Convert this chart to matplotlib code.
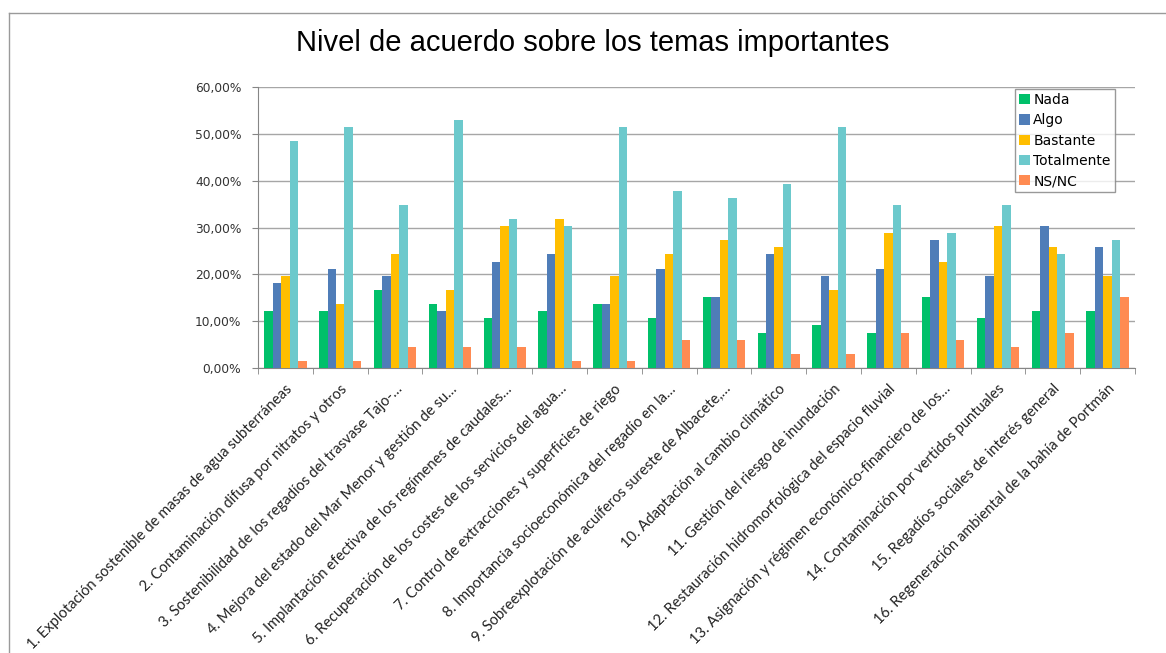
import matplotlib
matplotlib.use('Agg')
import matplotlib.pyplot as plt
from matplotlib.lines import Line2D
import numpy as np

temas = [
    "1. Explotación sostenible de masas de agua subterráneas",
    "2. Contaminación difusa por nitratos y otros",
    "3. Sostenibilidad de los regadíos del trasvase Tajo-…",
    "4. Mejora del estado del Mar Menor y gestión de su…",
    "5. Implantación efectiva de los regímenes de caudales…",
    "6. Recuperación de los costes de los servicios del agua…",
    "7. Control de extracciones y superficies de riego",
    "8. Importancia socioeconómica del regadío en la…",
    "9. Sobreexplotación de acuíferos sureste de Albacete,…",
    "10. Adaptación al cambio climático",
    "11. Gestión del riesgo de inundación",
    "12. Restauración hidromorfológica del espacio fluvial",
    "13. Asignación y régimen económico-financiero de los…",
    "14. Contaminación por vertidos puntuales",
    "15. Regadíos sociales de interés general",
    "16. Regeneración ambiental de la bahía de Portmán",
]

nada = [12.12, 12.12, 16.67, 13.64, 10.61, 12.12, 13.64, 10.61,
        15.15, 7.58, 9.09, 7.58, 15.15, 10.61, 12.12, 12.12]
algo = [18.18, 21.21, 19.70, 12.12, 22.73, 24.24, 13.64, 21.21,
        15.15, 24.24, 19.70, 21.21, 27.27, 19.70, 30.30, 25.76]
bastante = [19.70, 13.64, 24.24, 16.67, 30.30, 31.82, 19.70, 24.24,
            27.27, 25.76, 16.67, 28.79, 22.73, 30.30, 25.76, 19.70]
totalmente = [48.48, 51.52, 34.85, 53.03, 31.82, 30.30, 51.52, 37.88,
              36.36, 39.39, 51.52, 34.85, 28.79, 34.85, 24.24, 27.27]
nsnc = [1.52, 1.52, 4.55, 4.55, 4.55, 1.52, 1.52, 6.06,
        6.06, 3.03, 3.03, 7.58, 6.06, 4.55, 7.58, 15.15]

series = [('Nada', nada, '#00C06A'),
          ('Algo', algo, '#4F7DB8'),
          ('Bastante', bastante, '#FFBE00'),
          ('Totalmente', totalmente, '#6CC9CC'),
          ('NS/NC', nsnc, '#FF8B52')]

fig = plt.figure(figsize=(11.66, 6.53), dpi=100)
ax = fig.add_axes([258 / 1166, 1 - 368 / 653, (1135 - 258) / 1166, (368 - 87) / 653])

x = np.arange(len(temas))
w = 0.154
for i, (name, vals, col) in enumerate(series):
    ax.bar(x + (i - 2) * w, vals, width=w, color=col, label=name, zorder=3)

ax.set_xlim(-0.5, len(temas) - 0.5)
ax.set_ylim(0, 60)
ax.set_yticks(np.arange(0, 61, 10))
ax.set_yticklabels([f'{v:.2f}%'.replace('.', ',') for v in range(0, 61, 10)],
                   fontsize=8.8, color='#333333')
ax.yaxis.grid(True, color='#A6A6A6', linewidth=1, zorder=0)

ax.set_xticks(x)
ax.set_xticklabels(temas, rotation=45, ha='right', rotation_mode='anchor',
                   fontsize=10.6, family=['Lato', 'DejaVu Sans'], color='#222222')
ax.tick_params(axis='x', which='major', length=0, pad=10)
ax.set_xticks(np.arange(-0.5, len(temas)), minor=True)
ax.tick_params(axis='x', which='minor', length=4, color='#868686')
ax.tick_params(axis='y', length=4, color='#868686', pad=8)

for s in ['top', 'right']:
    ax.spines[s].set_visible(False)
for s in ['left', 'bottom']:
    ax.spines[s].set_color('#868686')

leg = ax.legend(loc='upper right', bbox_to_anchor=(0.977, 0.993), fontsize=10,
                frameon=True, fancybox=False, edgecolor='#808080',
                handlelength=0.75, handleheight=0.75, handletextpad=0.25,
                labelspacing=0.45, borderpad=0.3, borderaxespad=0)
leg.get_frame().set_linewidth(1)

fig.text(593 / 1166, 1 - 43 / 653, 'Nivel de acuerdo sobre los temas importantes',
         ha='center', va='center', fontsize=21,
         family=['Liberation Sans Narrow', 'Liberation Sans', 'DejaVu Sans'])

# marco del gráfico
fig.add_artist(Line2D([9 / 1166, 1], [1 - 12.5 / 653, 1 - 12.5 / 653],
                      transform=fig.transFigure, color='#9A9A9A', linewidth=1))
fig.add_artist(Line2D([9 / 1166, 9 / 1166], [0, 1 - 12.5 / 653],
                      transform=fig.transFigure, color='#9A9A9A', linewidth=1))

fig.savefig('out.png', dpi=100)
